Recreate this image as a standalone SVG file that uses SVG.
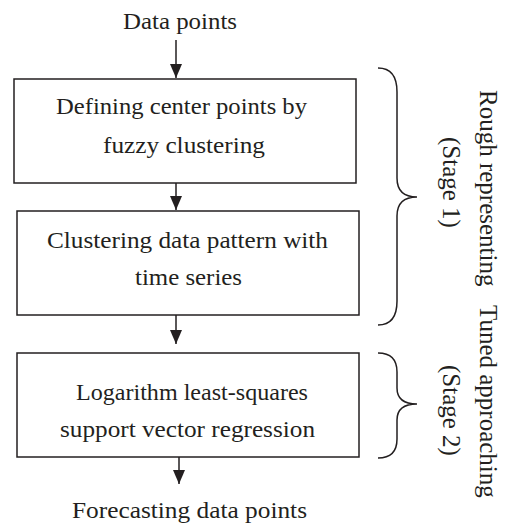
<svg xmlns="http://www.w3.org/2000/svg" width="510" height="526" viewBox="0 0 510 526">
<style>
.box{fill:#fff;stroke:#231f20;stroke-width:1.5}
.t{font-family:"Liberation Serif","Times New Roman",serif;font-size:24px;fill:#231f20;text-anchor:middle}
.v{font-family:"Liberation Serif","Times New Roman",serif;font-size:25px;fill:#231f20}
.c{stroke:#231f20;stroke-width:1.5;fill:none}
</style>
<defs>
<marker id="ah" markerUnits="userSpaceOnUse" markerWidth="14" markerHeight="12" viewBox="0 0 14 12" refX="14" refY="6" orient="auto">
<path d="M0,0 L14,6 L0,12 z" fill="#231f20"/>
</marker>
</defs>
<rect width="510" height="526" fill="#fff"/>
<g id="connectors">
<line class="c" x1="176" y1="40" x2="176" y2="78" marker-end="url(#ah)"/>
<line class="c" x1="176" y1="183" x2="176" y2="210" marker-end="url(#ah)"/>
<line class="c" x1="176" y1="315" x2="176" y2="344" marker-end="url(#ah)"/>
<line class="c" x1="179" y1="457" x2="179" y2="484" marker-end="url(#ah)"/>
</g>
<g id="input"><text class="t" x="180" y="29" textLength="114" lengthAdjust="spacingAndGlyphs">Data points</text></g>
<g id="node1">
<rect class="box" x="14" y="79" width="342" height="104"/>
<text class="t" x="181.5" y="114" textLength="251" lengthAdjust="spacingAndGlyphs">Defining center points by</text>
<text class="t" x="184" y="153" textLength="162" lengthAdjust="spacingAndGlyphs">fuzzy clustering</text>
</g>
<g id="node2">
<rect class="box" x="17" y="211" width="342" height="104"/>
<text class="t" x="187.5" y="248" textLength="281" lengthAdjust="spacingAndGlyphs">Clustering data pattern with</text>
<text class="t" x="188.5" y="285" textLength="107" lengthAdjust="spacingAndGlyphs">time series</text>
</g>
<g id="node3">
<rect class="box" x="17" y="353" width="342" height="104"/>
<text class="t" x="192" y="400" textLength="232" lengthAdjust="spacingAndGlyphs">Logarithm least-squares</text>
<text class="t" x="187.5" y="437" textLength="255" lengthAdjust="spacingAndGlyphs">support vector regression</text>
</g>
<g id="output"><text class="t" x="189.5" y="518" textLength="235" lengthAdjust="spacingAndGlyphs">Forecasting data points</text></g>
<g id="brace1">
<path class="c" d="M378,68 Q397,68 397,92 L397,178 Q397,197 417,197 Q397,197 397,216 L397,301 Q397,325 378,325"/>
</g>
<g id="brace2">
<path class="c" d="M378,353 Q397,353 397,372 L397,388 Q397,404 417,404 Q397,404 397,420 L397,439 Q397,458 378,458"/>
</g>
<g id="labels">
<text class="v" transform="translate(480,90) rotate(90)">Rough representing<tspan x="215">Tuned approaching</tspan></text>
<text class="v" transform="translate(443,137) rotate(90)">(Stage 1)</text>
<text class="v" transform="translate(443,365) rotate(90)">(Stage 2)</text>
</g>
</svg>
